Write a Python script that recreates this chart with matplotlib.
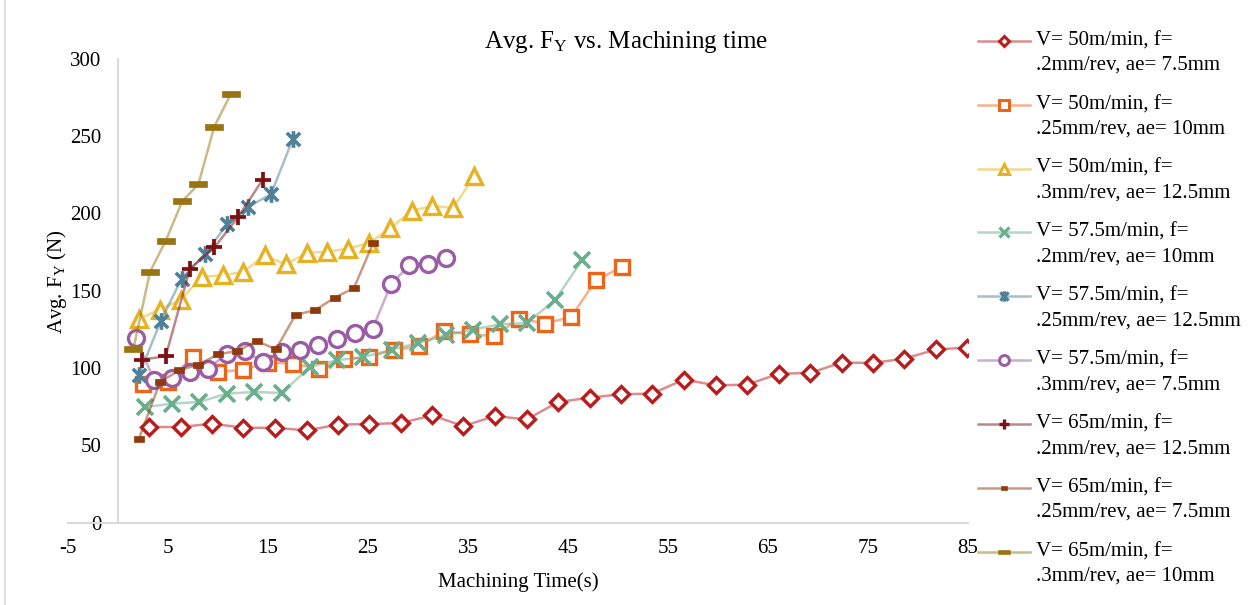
import matplotlib
matplotlib.use("Agg")
import matplotlib.pyplot as plt
from matplotlib.lines import Line2D
from matplotlib.path import Path

plt.rcParams['font.family'] = 'Liberation Serif'
plt.rcParams['mathtext.fontset'] = 'custom'
plt.rcParams['mathtext.rm'] = 'Liberation Serif'
plt.rcParams['mathtext.it'] = 'Liberation Serif:italic'
plt.rcParams['axes.unicode_minus'] = False

# --- Machining time (s) and average Fy (N) per cutting condition ---
t_v50_f20 = [3.1, 6.27, 9.43, 12.53, 15.7, 18.87, 22.03, 25.13, 28.27, 31.43, 34.53, 37.7, 40.87, 44.03,
             47.2, 50.27, 53.4, 56.6, 59.77, 62.9, 66.1, 69.2, 72.37, 75.5, 78.63, 81.8, 84.93]
fy_v50_f20 = [61.8, 61.8, 64.0, 61.3, 61.3, 59.6, 63.4, 63.7, 64.4, 69.3, 62.4, 68.9, 66.7, 78.0,
              80.8, 83.0, 83.4, 92.5, 88.8, 89.2, 96.3, 96.8, 103.5, 103.3, 106.0, 112.0, 113.2]

t_v50_f25 = [2.47, 4.95, 7.47, 10.0, 12.5, 15.0, 17.5, 20.1, 22.6, 25.1, 27.6, 30.1, 32.6, 35.2,
             37.6, 40.1, 42.7, 45.3, 47.8, 50.4]
fy_v50_f25 = [89.9, 91.0, 107.1, 97.4, 98.9, 103.5, 102.8, 99.6, 105.6, 107.1, 111.9, 114.0, 124.0, 121.8,
              120.7, 132.0, 128.8, 133.0, 156.8, 165.4]

t_v50_f30 = [2.13, 4.2, 6.3, 8.37, 10.47, 12.53, 14.7, 16.75, 18.87, 20.93, 23.03, 25.13, 27.2, 29.37,
             31.43, 33.53, 35.63]
fy_v50_f30 = [132.0, 137.8, 144.3, 159.0, 160.0, 162.2, 173.0, 167.0, 174.5, 175.2, 177.3, 181.0, 190.3, 201.8,
              204.8, 203.7, 224.2]

t_v575_f20 = [2.7, 5.37, 8.13, 10.87, 13.6, 16.37, 19.2, 21.87, 24.53, 27.37, 30.03, 32.77, 35.47, 38.2,
              40.87, 43.7, 46.4]
fy_v575_f20 = [74.7, 76.9, 78.0, 83.4, 84.5, 83.8, 100.7, 105.0, 107.1, 111.9, 116.2, 121.2, 124.9, 128.3,
               129.1, 143.9, 169.8]

t_v575_f25 = [2.1, 4.27, 6.37, 8.7, 10.87, 13.03, 15.3, 17.47]
fy_v575_f25 = [95.3, 130.4, 157.9, 173.5, 192.9, 204.3, 212.5, 248.0]

t_v575_f30 = [1.77, 3.6, 5.37, 7.2, 9.03, 10.87, 12.7, 14.53, 16.37, 18.2, 20.03, 21.87, 23.7, 25.47,
              27.3, 29.13, 30.97, 32.8]
fy_v575_f30 = [119.5, 92.5, 93.5, 97.4, 99.6, 109.3, 110.8, 103.9, 110.4, 111.9, 115.1, 119.0, 122.7, 125.5,
               154.2, 166.5, 167.6, 170.9]

t_v65_f20 = [2.37, 4.77, 7.2, 9.63, 12.03, 14.47]
fy_v65_f20 = [105.4, 107.6, 164.4, 178.0, 197.8, 222.0]

t_v65_f25 = [2.07, 4.2, 6.13, 8.03, 10.03, 11.93, 13.87, 15.8, 17.75, 19.7, 21.7, 23.6, 25.53]
fy_v65_f25 = [53.8, 90.9, 98.5, 102.2, 108.9, 111.0, 117.5, 112.1, 134.4, 137.4, 145.6, 151.8, 181.2]

t_v65_f30 = [1.53, 3.2, 4.77, 6.43, 8.03, 9.63, 11.27]
fy_v65_f30 = [112.1, 162.2, 182.3, 208.0, 218.8, 256.2, 277.2]

series_labels = [
    "V= 50m/min, f=\n.2mm/rev, ae= 7.5mm",
    "V= 50m/min, f=\n.25mm/rev, ae= 10mm",
    "V= 50m/min, f=\n.3mm/rev, ae= 12.5mm",
    "V= 57.5m/min, f=\n.2mm/rev, ae= 10mm",
    "V= 57.5m/min, f=\n.25mm/rev, ae= 12.5mm",
    "V= 57.5m/min, f=\n.3mm/rev, ae= 7.5mm",
    "V= 65m/min, f=\n.2mm/rev, ae= 12.5mm",
    "V= 65m/min, f=\n.25mm/rev, ae= 7.5mm",
    "V= 65m/min, f=\n.3mm/rev, ae= 10mm",
]
x_ticks = [-5, 5, 15, 25, 35, 45, 55, 65, 75, 85]
y_ticks = [0, 50, 100, 150, 200, 250, 300]

# custom markers: asterisk (X + vertical bar) and flat dashes
ASTERISK = Path([(-1, -1), (1, 1), (-1, 1), (1, -1), (0, -1.25), (0, 1.25)],
                [Path.MOVETO, Path.LINETO] * 3)
DASH_SHORT = Path([(-1, -0.55), (1, -0.55), (1, 0.55), (-1, 0.55), (-1, -0.55)],
                  [Path.MOVETO] + [Path.LINETO] * 3 + [Path.CLOSEPOLY])
DASH_LONG = Path([(-1, -0.36), (1, -0.36), (1, 0.36), (-1, 0.36), (-1, -0.36)],
                 [Path.MOVETO] + [Path.LINETO] * 3 + [Path.CLOSEPOLY])

styles = [
    dict(c='#B81C1C', m='D', ms=8.5, mew=2.4, fill=False),
    dict(c='#EC6518', m='s', ms=10.5, mew=2.4, fill=False),
    dict(c='#E6B222', m='^', ms=11.5, mew=2.4, fill=False),
    dict(c='#6AAE8E', m='x', ms=11.0, mew=2.6, fill=False),
    dict(c='#4E8098', m=ASTERISK, ms=12.0, mew=2.6, fill=False),
    dict(c='#9A5CA4', m='o', ms=11.5, mew=2.4, fill=False),
    dict(c='#7B1113', m='+', ms=12.0, mew=2.7, fill=False),
    dict(c='#8E3A0C', m=DASH_SHORT, ms=7.0, mew=0.5, fill=True),
    dict(c='#987412', m=DASH_LONG, ms=13.0, mew=0.5, fill=True),
]

times = [t_v50_f20, t_v50_f25, t_v50_f30, t_v575_f20, t_v575_f25, t_v575_f30, t_v65_f20, t_v65_f25, t_v65_f30]
forces = [fy_v50_f20, fy_v50_f25, fy_v50_f30, fy_v575_f20, fy_v575_f25, fy_v575_f30, fy_v65_f20, fy_v65_f25, fy_v65_f30]

W, H = 1253, 605
fig = plt.figure(figsize=(W / 100, H / 100), dpi=100)
ax = fig.add_axes([68 / W, 1 - 522.5 / H, 900 / W, 463.5 / H])

for i, (t, fy, st) in enumerate(zip(times, forces, styles)):
    ax.plot(t, fy, color=st['c'], alpha=0.5, lw=1.8, zorder=2 + 2 * i)
    ax.plot(t, fy, ls='none', marker=st['m'], ms=st['ms'], mew=st['mew'], mec=st['c'],
            mfc=st['c'] if st['fill'] else 'white', zorder=3 + 2 * i)

ax.set_xlim(-5, 85)
ax.set_ylim(0, 300)
ax.set_xticks(x_ticks)
ax.set_yticks(y_ticks)
ax.tick_params(length=0, labelsize=15, colors='black')
ax.tick_params(axis='x', pad=12)
ax.tick_params(axis='y', pad=12)

for side in ['top', 'right']:
    ax.spines[side].set_visible(False)
ax.spines['left'].set_position(('data', 0))
for side in ['left', 'bottom']:
    ax.spines[side].set_color('#D9D9D9')
    ax.spines[side].set_linewidth(1.4)

ax.set_xlabel('Machining Time(s)', fontsize=15)
ax.set_ylabel(r'Avg. F$_\mathrm{Y}$ (N)', fontsize=15)
ax.xaxis.set_label_coords(0.5, -(572 - 522.5) / 463.5)
ax.yaxis.set_label_coords((69 - 68) / 900, 0.52)

fig.text(0.5, 1 - 42 / H, r'Avg. F$_\mathrm{Y}$ vs. Machining time', ha='center', va='center', fontsize=18)

# legend drawn by hand so the key sits on the first text line
for i, (lab, st) in enumerate(zip(series_labels, styles)):
    y = 40.7 + 63.9 * i
    yf = 1 - y / H
    fig.add_artist(Line2D([978 / W, 1030 / W], [yf, yf], color=st['c'], alpha=0.5, lw=1.8))
    fig.add_artist(Line2D([1004 / W], [yf], ls='none', marker=st['m'], ms=st['ms'] * 0.62,
                          mew=st['mew'] * 0.9, mec=st['c'], mfc=st['c'] if st['fill'] else 'white'))
    for j, line in enumerate(lab.split('\n')):
        fig.text(1036 / W, 1 - (y + 24.5 * j) / H, line, ha='left', va='center', fontsize=15)

# chart area border on the left
fig.add_artist(Line2D([5 / W, 5 / W], [0, 1], color='#D9D9D9', lw=1.2))

fig.savefig('out.png', dpi=100)
